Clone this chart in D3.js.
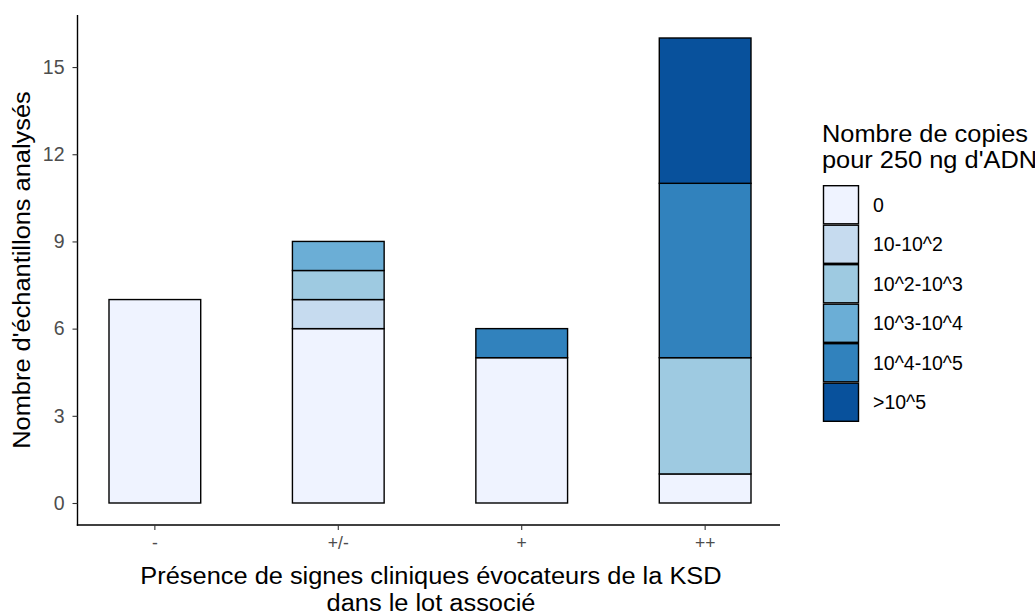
<!DOCTYPE html>
<html><head><meta charset="utf-8">
<script src="https://cdn.jsdelivr.net/npm/d3@7"></script>
<style>body{margin:0;background:#fff;}svg{display:block;font-family:"Liberation Sans",Arial,sans-serif;}</style>
</head><body><svg id="c" width="1035" height="615"></svg>
<script>
const categories = ["-", "+/-", "+", "++"];
const levels = ["0", "10-10^2", "10^2-10^3", "10^3-10^4", "10^4-10^5", ">10^5"];
const colors = ["#eff3ff", "#c6dbef", "#9ecae1", "#6baed6", "#3182bd", "#08519c"];
// counts per level, one array per level, indexed by category
const s0      = [7, 6, 5, 1];
const s10     = [0, 1, 0, 0];
const s100    = [0, 1, 0, 4];
const s1000   = [0, 1, 0, 0];
const s10000  = [0, 0, 1, 6];
const s100000 = [0, 0, 0, 5];
const yTicks = [0, 3, 6, 9, 12, 15];
const series = [s0, s10, s100, s1000, s10000, s100000];

const FF = '"Liberation Sans",Arial,sans-serif';
const svg = d3.select("#c");
const x = d3.scaleBand().domain(categories).range([109, 751]).paddingInner(0.5).paddingOuter(0);
const y = d3.scaleLinear().domain([0, 16]).range([503, 38]);

const rows = categories.map((c, i) => {
  const r = {cat: c};
  levels.forEach((l, j) => r[l] = series[j][i]);
  return r;
});
const stacked = d3.stack().keys(levels)(rows);

stacked.forEach((layer, j) => {
  svg.append("g").selectAll("rect").data(layer.filter(d => d[1] - d[0] > 0)).join("rect")
    .attr("x", d => x(d.data.cat))
    .attr("width", x.bandwidth())
    .attr("y", d => y(d[1]))
    .attr("height", d => y(d[0]) - y(d[1]))
    .attr("fill", colors[j])
    .attr("stroke", "#000").attr("stroke-width", 1.4);
});

// axes
const panelLeft = 77.5, panelRight = 780, panelTop = 15, panelBottom = 525;
svg.append("line").attr("x1", panelLeft).attr("x2", panelLeft).attr("y1", panelTop).attr("y2", panelBottom + 0.7)
  .attr("stroke", "#000").attr("stroke-width", 1.4);
svg.append("line").attr("x1", panelLeft - 0.7).attr("x2", panelRight).attr("y1", panelBottom).attr("y2", panelBottom)
  .attr("stroke", "#000").attr("stroke-width", 1.4);

const yAxis = d3.axisLeft(y).tickValues(yTicks).tickSize(5).tickPadding(8);
const gy = svg.append("g").attr("transform", `translate(${panelLeft},0)`).call(yAxis);
gy.select(".domain").remove();
gy.selectAll("line").attr("stroke", "#333").attr("stroke-width", 1.1);
gy.selectAll("text").attr("fill", "#4D4D4D").style("font-size", "19.5px").style("font-family", FF);

const xAxis = d3.axisBottom(x).tickSize(5).tickPadding(7);
const gx = svg.append("g").attr("transform", `translate(0,${panelBottom})`).call(xAxis);
gx.select(".domain").remove();
gx.selectAll("line").attr("stroke", "#333").attr("stroke-width", 1.1);
gx.selectAll("text").attr("fill", "#4D4D4D").style("font-size", "17.5px").style("font-family", FF);

// slightly wide titles (reference glyphs are stretched horizontally)
function widen(sel, f) {
  const n = sel.node();
  const w = n.getComputedTextLength();
  sel.attr("textLength", w * f).attr("lengthAdjust", "spacingAndGlyphs");
  return sel;
}
const TS = "23.5px", WF = 1.08;
widen(svg.append("text").attr("x", 431).attr("y", 584).attr("text-anchor", "middle")
  .style("font-size", TS).attr("fill", "#000").text("Présence de signes cliniques évocateurs de la KSD"), WF);
widen(svg.append("text").attr("x", 431).attr("y", 611).attr("text-anchor", "middle")
  .style("font-size", TS).attr("fill", "#000").text("dans le lot associé"), WF);
widen(svg.append("text").attr("transform", "translate(30,270) rotate(-90)").attr("text-anchor", "middle")
  .style("font-size", TS).attr("fill", "#000").text("Nombre d'échantillons analysés"), WF);

// legend
const lg = svg.append("g");
widen(lg.append("text").attr("x", 822).attr("y", 141.5).style("font-size", TS).text("Nombre de copies"), WF);
widen(lg.append("text").attr("x", 822).attr("y", 167.5).style("font-size", TS).text("pour 250 ng d'ADN"), WF);
const keyH = 39.5, keyTop = 185;
levels.forEach((l, j) => {
  lg.append("rect").attr("x", 823.5).attr("y", keyTop + j * keyH + 0.7).attr("width", 35).attr("height", keyH - 1.4)
    .attr("fill", colors[j]).attr("stroke", "#000").attr("stroke-width", 1.4);
  lg.append("text").attr("x", 873).attr("y", keyTop + j * keyH + keyH / 2 + 7)
    .style("font-size", "19.5px").text(l);
});
</script></body></html>
